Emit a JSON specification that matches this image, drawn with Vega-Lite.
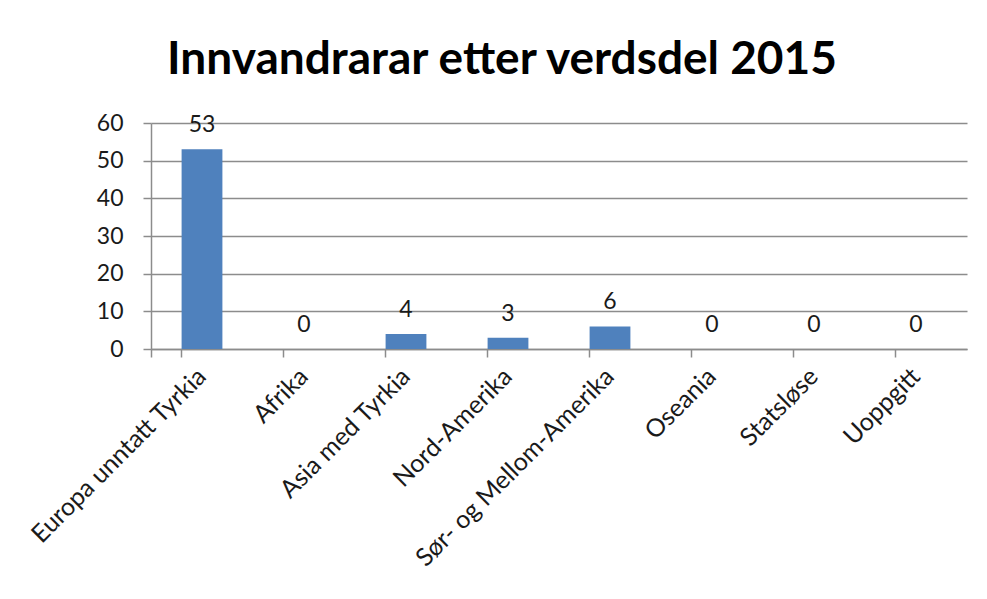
{
  "$schema": "https://vega.github.io/schema/vega-lite/v6.json",
  "width": 816,
  "height": 226,
  "autosize": {"type": "none"},
  "padding": {"left": 151, "top": 123, "right": 20, "bottom": 250},
  "background": "white",
  "title": {
    "text": "Innvandrarar etter verdsdel 2015",
    "font": "Lato",
    "fontSize": 46,
    "fontWeight": "bold",
    "color": "#000000",
    "anchor": "middle",
    "dx": -57,
    "offset": 28
  },
  "config": {
    "view": {"stroke": null},
    "font": "Lato"
  },
  "data": {
    "values": [
      {"verdsdel": "Europa unntatt Tyrkia", "antal": 53},
      {"verdsdel": "Afrika", "antal": 0},
      {"verdsdel": "Asia med Tyrkia", "antal": 4},
      {"verdsdel": "Nord-Amerika", "antal": 3},
      {"verdsdel": "Sør- og Mellom-Amerika", "antal": 6},
      {"verdsdel": "Oseania", "antal": 0},
      {"verdsdel": "Statsløse", "antal": 0},
      {"verdsdel": "Uoppgitt", "antal": 0}
    ]
  },
  "encoding": {
    "x": {
      "field": "verdsdel",
      "type": "nominal",
      "sort": null,
      "scale": {"paddingInner": 0.6, "paddingOuter": 0.3},
      "axis": {
        "title": null,
        "labelAngle": -45,
        "labelAlign": "right",
        "labelBaseline": "middle",
        "labelFontSize": 25,
        "labelColor": "#1a1a1a",
        "labelPadding": 15,
        "labelOverlap": false,
        "labelLimit": 500,
        "bandPosition": 0,
        "tickExtra": true,
        "tickSize": 8,
        "tickColor": "#8c8c8c",
        "tickWidth": 1.5,
        "domainColor": "#8c8c8c",
        "domainWidth": 1.5,
        "grid": false
      }
    },
    "y": {
      "field": "antal",
      "type": "quantitative",
      "scale": {"domain": [0, 60]},
      "axis": {
        "title": null,
        "values": [0, 10, 20, 30, 40, 50, 60],
        "labelFontSize": 23,
        "labelColor": "#1a1a1a",
        "labelPadding": 20,
        "tickSize": 8,
        "tickColor": "#8c8c8c",
        "tickWidth": 1.5,
        "domainColor": "#8c8c8c",
        "domainWidth": 1.5,
        "gridColor": "#8c8c8c",
        "gridWidth": 1.5
      }
    }
  },
  "layer": [
    {"mark": {"type": "bar", "color": "#4F81BD"}},
    {
      "mark": {"type": "text", "baseline": "middle", "dy": -24, "fontSize": 23, "color": "#1a1a1a"},
      "encoding": {"text": {"field": "antal", "type": "quantitative"}}
    }
  ]
}
